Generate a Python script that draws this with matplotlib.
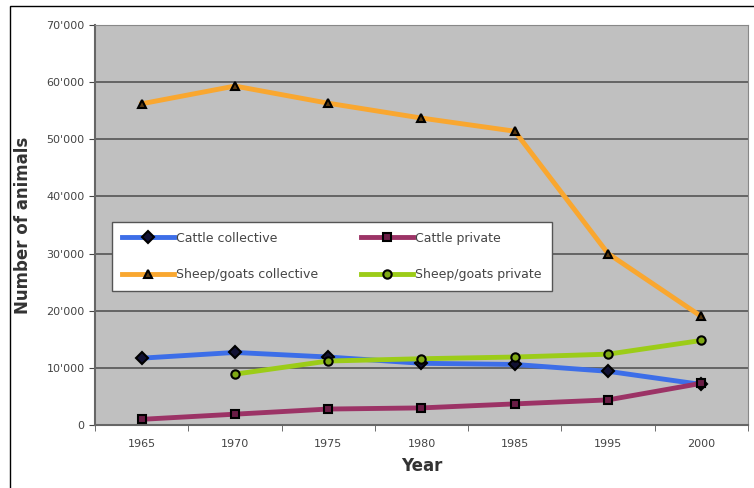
import matplotlib
matplotlib.use("Agg")
import matplotlib.pyplot as plt
import numpy as np
from matplotlib.patches import Rectangle
from matplotlib.ticker import FuncFormatter, MultipleLocator

# Livestock numbers by year
years = ["1965", "1970", "1975", "1980", "1985", "1995", "2000"]
cattle_collective = [11700, 12700, 11900, 10800, 10600, 9400, 7100]
cattle_private = [1000, 1900, 2800, 3000, 3700, 4400, 7300]
sheep_collective = [56200, 59300, 56300, 53700, 51400, 30000, 19000]
sheep_private = [np.nan, 8900, 11200, 11600, 11900, 12400, 14800]

series = [
    ("Cattle collective", cattle_collective, "#3d6ee8", "D", "#111133"),
    ("Cattle private", cattle_private, "#9c3366", "s", "#6a1d45"),
    ("Sheep/goats collective", sheep_collective, "#f9a730", "^", "#5a3a10"),
    ("Sheep/goats private", sheep_private, "#9ccc18", "o", "#7fa814"),
]


def thousands(v, pos):
    v = int(v)
    if v == 0:
        return "0"
    return "{}'{:03d}".format(v // 1000, v % 1000)


fig = plt.figure(figsize=(7.54, 4.88), dpi=100)
ax = fig.add_axes([0.126, 0.129, 0.866, 0.820])
ax.set_facecolor("#c0c0c0")

x = np.arange(len(years))
handles = []
for label, vals, color, marker, face in series:
    h, = ax.plot(x, vals, color=color, lw=3.5, marker=marker, ms=6,
                 markerfacecolor=face, markeredgecolor="black", markeredgewidth=1.5,
                 label=label, zorder=3)
    handles.append(h)

ax.set_xlim(-0.5, len(years) - 0.5)
ax.set_ylim(0, 70000)
ax.yaxis.set_major_locator(MultipleLocator(10000))
ax.yaxis.set_major_formatter(FuncFormatter(thousands))
ax.set_xticks(x)
ax.set_xticklabels(years)
ax.set_xticks(np.arange(-0.5, len(years), 1.0), minor=True)
ax.tick_params(axis="x", which="major", length=0, pad=10, labelsize=8, colors="#444444")
ax.tick_params(axis="x", which="minor", length=4, color="#555555")
ax.tick_params(axis="y", length=4, labelsize=8, colors="#444444")
ax.grid(axis="y", color="#555555", lw=1.2, zorder=1)
for side in ["left", "bottom"]:
    ax.spines[side].set_color("#666666")
    ax.spines[side].set_linewidth(1.5)
for side in ["top", "right"]:
    ax.spines[side].set_color("#888888")
    ax.spines[side].set_linewidth(0.8)

ax.set_xlabel("Year", fontsize=12, fontweight="bold", color="#333333", labelpad=6)
ax.set_ylabel("Number of animals", fontsize=12, fontweight="bold", color="#333333", labelpad=10)

# legend rows: collective/private side by side
order = [0, 2, 1, 3]
leg = ax.legend([handles[i] for i in order], [series[i][0] for i in order],
                loc="upper left", bbox_to_anchor=(0.026, 0.508), borderaxespad=0,
                ncol=2, fontsize=9, frameon=True, fancybox=False,
                framealpha=1, facecolor="white", edgecolor="#555555",
                handlelength=4.2, labelspacing=1.85, borderpad=0.8,
                handletextpad=0.15, columnspacing=3.4)
leg.get_frame().set_linewidth(1.0)
for t in leg.get_texts():
    t.set_color("#444444")

# thin outer frame
fig.add_artist(Rectangle((10 / 754, -0.05), 1.2, 1.05 - 6 / 488,
                         transform=fig.transFigure, fill=False,
                         edgecolor="black", lw=1.0))

fig.savefig("out.png", dpi=100)
